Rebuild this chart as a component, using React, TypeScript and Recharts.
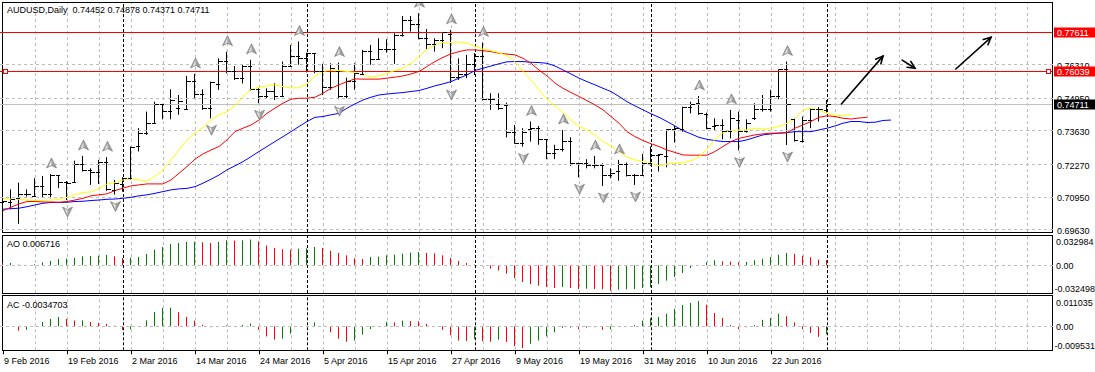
import React from "react";
import { ComposedChart, Bar, Cell, Line, Scatter, XAxis, YAxis, ReferenceLine } from "recharts";

const WIDTH = 1095;
const HEIGHT = 372;
const FONT = "'Liberation Sans', Arial, sans-serif";
const GREEN = "#008000";
const RED = "#ff0000";
const GRID = "#bdbdbd";

// AUDUSD daily bars, 9 Feb 2016 .. 1 Jul 2016
const opens = [
  0.7075, 0.7074, 0.709, 0.7108, 0.7098, 0.7138, 0.7108, 0.7185, 0.7154, 0.7154,
  0.7226, 0.7202, 0.7196, 0.7237, 0.7122, 0.7145, 0.7169, 0.73, 0.7351, 0.7394,
  0.7468, 0.7441, 0.7454, 0.745, 0.7562, 0.7511, 0.7455, 0.7549, 0.7643, 0.7603,
  0.7576, 0.7623, 0.7529, 0.7502, 0.7522, 0.7502, 0.7625, 0.7663, 0.7657, 0.7676,
  0.7603, 0.7539, 0.7603, 0.7502, 0.7562, 0.7589, 0.7683, 0.765, 0.769, 0.7693,
  0.7747, 0.7809, 0.7791, 0.7737, 0.771, 0.773, 0.7751, 0.758, 0.7589, 0.763,
  0.7663, 0.7488, 0.747, 0.7464, 0.7356, 0.7313, 0.7367, 0.7374, 0.7327, 0.727,
  0.7286, 0.732, 0.723, 0.723, 0.7222, 0.7222, 0.7185, 0.7199, 0.7226, 0.7185,
  0.7181, 0.7232, 0.7262, 0.7259, 0.7367, 0.7367, 0.7459, 0.7475, 0.7428, 0.738,
  0.7383, 0.736, 0.7407, 0.736, 0.7414, 0.7448, 0.7448, 0.7502, 0.7609, 0.741,
  0.732, 0.7407, 0.745, 0.74452,
];
const highs = [
  0.7095, 0.7127, 0.7154, 0.7127, 0.7172, 0.7181, 0.7189, 0.7185, 0.7161, 0.7243,
  0.7262, 0.7212, 0.7246, 0.7257, 0.7165, 0.7176, 0.73, 0.7374, 0.7441, 0.7481,
  0.7472, 0.7531, 0.7508, 0.7585, 0.7593, 0.7531, 0.7562, 0.7656, 0.7683, 0.7625,
  0.763, 0.765, 0.7535, 0.7535, 0.7555, 0.7643, 0.771, 0.7724, 0.7679, 0.7677,
  0.7634, 0.7636, 0.7639, 0.7578, 0.7636, 0.769, 0.771, 0.7737, 0.7733, 0.7757,
  0.7827, 0.7827, 0.7838, 0.7774, 0.7737, 0.7762, 0.7771, 0.7656, 0.767, 0.7677,
  0.772, 0.7515, 0.7515, 0.7477, 0.7387, 0.7374, 0.7401, 0.7383, 0.7327, 0.7307,
  0.7367, 0.7337, 0.7235, 0.7249, 0.7262, 0.7232, 0.7212, 0.7246, 0.7235, 0.7189,
  0.727, 0.73, 0.727, 0.737, 0.7383, 0.7461, 0.7481, 0.7504, 0.7437, 0.7414,
  0.741, 0.7448, 0.7441, 0.741, 0.7475, 0.7508, 0.7529, 0.7612, 0.7643, 0.7414,
  0.7421, 0.7454, 0.7459, 0.74878,
];
const lows = [
  0.6963, 0.7047, 0.6988, 0.7098, 0.7098, 0.7094, 0.7091, 0.7132, 0.7084, 0.7154,
  0.7199, 0.7145, 0.7149, 0.7121, 0.7106, 0.7118, 0.7165, 0.728, 0.7347, 0.7391,
  0.741, 0.741, 0.7428, 0.7448, 0.7491, 0.7448, 0.7414, 0.7529, 0.7596, 0.7569,
  0.7555, 0.7526, 0.7475, 0.7495, 0.7488, 0.7502, 0.7623, 0.763, 0.7599, 0.7596,
  0.7508, 0.7529, 0.7491, 0.7495, 0.7529, 0.7589, 0.763, 0.765, 0.7679, 0.7634,
  0.7744, 0.7764, 0.7733, 0.7693, 0.7683, 0.7697, 0.7556, 0.7569, 0.7576, 0.7589,
  0.7486, 0.7448, 0.7448, 0.7337, 0.7311, 0.73, 0.732, 0.7307, 0.7249, 0.7249,
  0.728, 0.7222, 0.7176, 0.7212, 0.7212, 0.7141, 0.7172, 0.7162, 0.7179, 0.7145,
  0.7181, 0.7222, 0.7199, 0.7216, 0.7316, 0.736, 0.7434, 0.7428, 0.737, 0.7364,
  0.7329, 0.7333, 0.7284, 0.7356, 0.7407, 0.7441, 0.7441, 0.7491, 0.7306, 0.732,
  0.7316, 0.7374, 0.7401, 0.74371,
];
const closes = [
  0.708, 0.7087, 0.7108, 0.7105, 0.7138, 0.7108, 0.7185, 0.7154, 0.715, 0.7226,
  0.7202, 0.7196, 0.7237, 0.7125, 0.7152, 0.7172, 0.7297, 0.7351, 0.7394, 0.7468,
  0.7441, 0.7486, 0.748, 0.7562, 0.7511, 0.7455, 0.7558, 0.7643, 0.7603, 0.7576,
  0.7623, 0.7529, 0.7502, 0.7522, 0.7502, 0.7625, 0.7663, 0.7657, 0.7676, 0.7603,
  0.7539, 0.7616, 0.7502, 0.7562, 0.7593, 0.7683, 0.765, 0.769, 0.7693, 0.7747,
  0.7809, 0.7791, 0.7737, 0.771, 0.773, 0.776, 0.758, 0.7589, 0.763, 0.7663,
  0.7488, 0.7488, 0.7455, 0.7356, 0.7313, 0.7356, 0.7374, 0.7327, 0.727, 0.7286,
  0.732, 0.723, 0.723, 0.7222, 0.7222, 0.7185, 0.7192, 0.7226, 0.7185, 0.7181,
  0.7232, 0.7262, 0.7266, 0.7367, 0.7374, 0.7459, 0.7468, 0.7434, 0.7374, 0.7383,
  0.736, 0.7414, 0.736, 0.7394, 0.7448, 0.7448, 0.7502, 0.7609, 0.7468, 0.7324,
  0.7407, 0.745, 0.7448, 0.74711,
];

// Alligator lines (already shifted forward as drawn)
const jaw = [
  0.7047, 0.7049, 0.7051, 0.7057, 0.7064, 0.7071, 0.7074, 0.7074, 0.7075, 0.7078,
  0.7079, 0.7082, 0.7084, 0.7087, 0.7088, 0.7091, 0.7095, 0.7101, 0.7105, 0.7111,
  0.7118, 0.7125, 0.7129, 0.7131, 0.7138, 0.7152, 0.7168, 0.7185, 0.7206, 0.7222,
  0.7239, 0.7259, 0.728, 0.73, 0.732, 0.734, 0.736, 0.7381, 0.7401, 0.7418,
  0.7421, 0.7428, 0.7434, 0.7455, 0.7472, 0.7488, 0.7499, 0.7508, 0.7512, 0.7515,
  0.7518, 0.7522, 0.7526, 0.7535, 0.7545, 0.7553, 0.7562, 0.7576, 0.7589, 0.7607,
  0.7616, 0.7625, 0.7634, 0.7642, 0.7643, 0.7643, 0.764, 0.7639, 0.7636, 0.7625,
  0.7609, 0.7593, 0.7576, 0.7562, 0.7549, 0.7535, 0.7522, 0.7502, 0.7481, 0.7464,
  0.7448, 0.7432, 0.7418, 0.7401, 0.7383, 0.7364, 0.7351, 0.7337, 0.7329, 0.7324,
  0.732, 0.732, 0.732, 0.7327, 0.7337, 0.7347, 0.7351, 0.7354, 0.7356, 0.736,
  0.736, 0.736, 0.7367, 0.7374, 0.7383, 0.7394, 0.7401, 0.7401, 0.7397, 0.7398,
  0.7405, 0.7407,
];
const teeth = [
  0.7041, 0.7055, 0.7068, 0.7078, 0.7078, 0.7076, 0.7076, 0.7075, 0.7078, 0.7084,
  0.7091, 0.7101, 0.7105, 0.7109, 0.7122, 0.7132, 0.7141, 0.7145, 0.7149, 0.7149,
  0.7149, 0.7165, 0.7192, 0.7219, 0.7249, 0.727, 0.7286, 0.73, 0.7327, 0.736,
  0.7374, 0.7387, 0.7407, 0.7434, 0.7455, 0.7475, 0.7491, 0.7495, 0.7495, 0.7499,
  0.7515, 0.7535, 0.7549, 0.7562, 0.7573, 0.7572, 0.7572, 0.7572, 0.7576, 0.758,
  0.7585, 0.7593, 0.7603, 0.7623, 0.7643, 0.766, 0.7674, 0.7683, 0.769, 0.769,
  0.7687, 0.7683, 0.7677, 0.7673, 0.767, 0.7656, 0.7636, 0.7609, 0.7585, 0.7556,
  0.7535, 0.7518, 0.7502, 0.7485, 0.7468, 0.7448, 0.7421, 0.7394, 0.736, 0.734,
  0.7324, 0.7311, 0.73, 0.7286, 0.7276, 0.7266, 0.7265, 0.7265, 0.7265, 0.728,
  0.73, 0.732, 0.7333, 0.734, 0.7347, 0.7351, 0.7354, 0.7354, 0.7356, 0.7374,
  0.7387, 0.7401, 0.7418, 0.7424, 0.7421, 0.7414, 0.7411, 0.7415, 0.7418,
];
const lips = [
  0.7091, 0.7087, 0.7087, 0.7084, 0.7082, 0.7082, 0.7084, 0.7087, 0.7095, 0.7105,
  0.7114, 0.7117, 0.7131, 0.7149, 0.7154, 0.7165, 0.7169, 0.7165, 0.7161, 0.7179,
  0.7206, 0.7246, 0.7286, 0.7327, 0.7354, 0.7378, 0.7407, 0.7428, 0.7441, 0.7464,
  0.7502, 0.7531, 0.7539, 0.7545, 0.7549, 0.7542, 0.7537, 0.7537, 0.7553, 0.7585,
  0.7603, 0.7609, 0.7607, 0.7603, 0.7599, 0.7589, 0.758, 0.7585, 0.7596, 0.7607,
  0.7616, 0.7636, 0.7663, 0.7693, 0.771, 0.772, 0.772, 0.7722, 0.7717, 0.7706,
  0.7693, 0.7687, 0.7679, 0.7666, 0.7643, 0.7603, 0.7569, 0.7529, 0.7491, 0.7464,
  0.7437, 0.7407, 0.7381, 0.7367, 0.7347, 0.732, 0.7302, 0.728, 0.7257, 0.7246,
  0.7239, 0.7233, 0.7223, 0.723, 0.7233, 0.7235, 0.7243, 0.7259, 0.7289, 0.7329,
  0.7356, 0.7364, 0.7367, 0.7367, 0.7374, 0.7371, 0.7374, 0.7381, 0.7394, 0.7414,
  0.7448, 0.7455, 0.7448, 0.7434, 0.7426, 0.7424, 0.743,
];

const ao = [
  0.0026, 0.003, 0.0009, 0.0002, 0.0013, 0.0039, 0.0056, 0.0081, 0.0086, 0.0094,
  0.0116, 0.012, 0.0124, 0.0133, 0.0116, 0.0094, 0.0098, 0.0107, 0.0146, 0.0201,
  0.0235, 0.0274, 0.0287, 0.03, 0.0304, 0.0295, 0.0287, 0.03, 0.0321, 0.0317,
  0.0321, 0.033, 0.0308, 0.0253, 0.0223, 0.0205, 0.0201, 0.0214, 0.0218, 0.0235,
  0.0223, 0.0188, 0.0158, 0.0128, 0.009, 0.0081, 0.0107, 0.0111, 0.0128, 0.0137,
  0.015, 0.0163, 0.0171, 0.0158, 0.0154, 0.0128, 0.0094, 0.0056, 0.003, 0.0009,
  -0.0013, -0.0043, -0.0068, -0.0107, -0.0163, -0.0214, -0.024, -0.0261, -0.0278, -0.0291,
  -0.0278, -0.0291, -0.0304, -0.03, -0.0304, -0.0308, -0.0325, -0.0312, -0.0308, -0.0304,
  -0.0291, -0.0282, -0.024, -0.0197, -0.015, -0.0098, -0.0034, -0.0004, 0.0039, 0.0064,
  0.0051, 0.0047, 0.0039, 0.0043, 0.0064, 0.0081, 0.0107, 0.0137, 0.0158, 0.0146,
  0.0124, 0.0103, 0.0073, 0.006716,
];
const ac = [
  0.0001, 0.00004, -0.0019, -0.0015, 0.0001, 0.0019, 0.0032, 0.0041, 0.0032, 0.0025,
  0.0026, 0.0019, 0.0015, 0.001, 0.0003, -0.0015, -0.0013, 0.0001, 0.0026, 0.0062,
  0.008, 0.0081, 0.0062, 0.0041, 0.0025, 0.0007, -0.0004, -0.0001, 0.0004, 0.0001,
  0.0006, 0.0012, -0.0015, -0.0044, -0.0058, -0.0054, -0.0032, 0.0, 0.0001, 0.0017,
  0.0, -0.0026, -0.0054, -0.0067, -0.0062, -0.0036, -0.0012, -0.0001, 0.002, 0.0017,
  0.0025, 0.0023, 0.0022, 0.001, 0.0, -0.0015, -0.0039, -0.0062, -0.0064, -0.0055,
  -0.0065, -0.0067, -0.0058, -0.0068, -0.0087, -0.0095, -0.0076, -0.0062, -0.0044, -0.0026,
  -0.0007, -0.0006, -0.0012, -0.0006, -0.0004, -0.0015, -0.0013, 0.0, 0.0001, 0.0006,
  0.0025, 0.0036, 0.0041, 0.0055, 0.0076, 0.0093, 0.0102, 0.011, 0.0094, 0.0058,
  0.0036, 0.0006, -0.0012, -0.0004, 0.0006, 0.0028, 0.0036, 0.0055, 0.0044, 0.0017,
  -0.0012, -0.0029, -0.0046, -0.0034703,
];

const fractalsUp = [6, 10, 13, 24, 28, 31, 37, 42, 52, 56, 60, 66, 70, 74, 77, 87, 91, 98];
const fractalsDown = [8, 14, 26, 32, 42, 56, 65, 72, 75, 79, 92, 98];

const dateTicks = [0, 8, 16, 24, 32, 40, 48, 56, 64, 72, 80, 88, 96];
const dateLabels = [
  "9 Feb 2016", "19 Feb 2016", "2 Mar 2016", "14 Mar 2016", "24 Mar 2016", "5 Apr 2016",
  "15 Apr 2016", "27 Apr 2016", "9 May 2016", "19 May 2016", "31 May 2016", "10 Jun 2016", "22 Jun 2016",
];
const monthStarts = [15, 38, 59, 81, 103];
const gridBars = [
  4, 8, 12, 16, 20, 24, 28, 32, 36, 40, 44, 48, 52, 56, 60, 64,
  68, 72, 76, 80, 84, 88, 92, 96, 100, 104, 108, 112, 116, 120, 124, 128,
];
const priceTicks = [0.6963, 0.7095, 0.7227, 0.7363, 0.7495, 0.7631];
const aoTicks = [0.032984, 0, -0.032498];
const acTicks = [0.011035, 0, -0.009531];
const redLevels = [0.77611, 0.76039];
const lastPrice = 0.74711;
const arrowStart = [[104.8, 0.7472], [112.4, 0.7649], [119.1, 0.7613]];
const arrowEnd = [[110.0, 0.7665], [114.0, 0.7616], [123.5, 0.7741]];

const SLOTS = 132;
const X_DOMAIN: [number, number] = [-0.375, 131.25];
const PRICE_DOMAIN: [number, number] = [0.69549, 0.78794];

const rows = Array.from({ length: SLOTS }, (_, i) => ({
  i,
  hl: i < highs.length ? [lows[i], highs[i]] : undefined,
  jaw: jaw[i],
  teeth: teeth[i],
  lips: lips[i],
  ao: ao[i],
  ac: ac[i],
}));
const aoColors = rows.map((r) => (r.i > 0 && r.i < ao.length && ao[r.i] > ao[r.i - 1] ? GREEN : RED));
const acColors = rows.map((r) => (r.i > 0 && r.i < ac.length && ac[r.i] > ac[r.i - 1] ? GREEN : RED));
const openPts = opens.map((v, i) => ({ i, v }));
const closePts = closes.map((v, i) => ({ i, v }));
const upPts = fractalsUp.map((i) => ({ i, v: highs[i] }));
const downPts = fractalsDown.map((i) => ({ i, v: lows[i] }));

const crisp = (v: number) => Math.floor(v) + 0.5;

const stickShape = (p: any) => {
  if (p == null || p.x == null || p.height == null || isNaN(p.y) || isNaN(p.height)) return null;
  const cx = Math.floor(p.x + p.width / 2);
  const top = Math.min(p.y, p.y + p.height);
  const h = Math.abs(p.height);
  return <rect x={cx} y={top} width={1} height={Math.max(h, 0)} fill={p.fill || "#000"} />;
};
const OpenShape = (p: any) => {
  const x = Math.floor(p.cx);
  const y = crisp(p.cy);
  return <line x1={x - 3} x2={x + 1} y1={y} y2={y} stroke="#000" strokeWidth={1} />;
};
const CloseShape = (p: any) => {
  const x = Math.floor(p.cx);
  const y = crisp(p.cy);
  return <line x1={x} x2={x + 4} y1={y} y2={y} stroke="#000" strokeWidth={1} />;
};
const UpFractal = (p: any) => {
  const x = Math.floor(p.cx) + 0.5;
  const y = p.cy;
  return (
    <g>
      <polygon points={`${x},${y - 16} ${x + 5},${y - 6} ${x},${y - 8.5} ${x - 5},${y - 6}`} fill="#a2a2a2" stroke="#6e6e6e" strokeWidth={0.6} />
      <polygon points={`${x},${y - 14} ${x - 3},${y - 7.5} ${x},${y - 9}`} fill="#e6e6e6" />
    </g>
  );
};
const DownFractal = (p: any) => {
  const x = Math.floor(p.cx) + 0.5;
  const y = p.cy;
  return (
    <g>
      <polygon points={`${x},${y + 17} ${x + 5},${y + 7} ${x},${y + 9.5} ${x - 5},${y + 7}`} fill="#a2a2a2" stroke="#6e6e6e" strokeWidth={0.6} />
      <polygon points={`${x},${y + 15} ${x - 3},${y + 8.5} ${x},${y + 10}`} fill="#e6e6e6" />
    </g>
  );
};

const vGrid = (p: any) => <line x1={crisp(p.x1)} x2={crisp(p.x1)} y1={p.y1} y2={p.y2} stroke={GRID} strokeDasharray="3 3" />;
const vSep = (p: any) => <line x1={crisp(p.x1)} x2={crisp(p.x1)} y1={p.y1} y2={p.y2} stroke="#000" strokeDasharray="3 2" />;
const hGrid = (p: any) => <line x1={p.x1} x2={p.x2} y1={crisp(p.y1)} y2={crisp(p.y1)} stroke={GRID} strokeDasharray="3 3" />;

const levelShape = (color: string, selected: boolean) => (p: any) => {
  const y = crisp(p.y1);
  const xl = Math.min(p.x1, p.x2);
  const xr = Math.max(p.x1, p.x2);
  return (
    <g>
      <line x1={xl} x2={xr - 1} y1={y} y2={y} stroke={color} strokeWidth={1} />
      {selected && <rect x={xl + 3.5} y={y - 2} width={4} height={4} fill="#fff" stroke={color} strokeWidth={1} />}
      {selected && <rect x={xr - 6.5} y={y - 2} width={4} height={4} fill="#fff" stroke={color} strokeWidth={1} />}
    </g>
  );
};
const tagShape = (label: string, bg: string) => (p: any) => {
  const y = crisp(p.y1);
  const xr = Math.max(p.x1, p.x2);
  return (
    <g>
      <rect x={xr + 1} y={y - 5} width={44} height={10} fill={bg} />
      <text x={xr + 4} y={y + 0.5} fontSize={9} fontFamily={FONT} fill="#fff" dominantBaseline="central">{label}</text>
    </g>
  );
};

const ArrowShape = (p: any) => {
  const { x1, y1, x2, y2 } = p;
  const a = Math.atan2(y2 - y1, x2 - x1);
  const L = 8;
  const h1x = x2 - L * Math.cos(a - 0.45);
  const h1y = y2 - L * Math.sin(a - 0.45);
  const h2x = x2 - L * Math.cos(a + 0.45);
  const h2y = y2 - L * Math.sin(a + 0.45);
  return (
    <g stroke="#000" strokeWidth={1.6} fill="none" strokeLinecap="round">
      <line x1={x1} y1={y1} x2={x2} y2={y2} />
      <polyline points={`${h1x},${h1y} ${x2},${y2} ${h2x},${h2y}`} />
    </g>
  );
};

const PriceTick = (p: any) => (
  <text x={p.x + 4} y={p.y + 1} fontSize={9} fontFamily={FONT} fill="#000" dominantBaseline="central">
    {Number(p.payload.value).toFixed(5)}
  </text>
);
const IndTick = (p: any) => {
  const v = Number(p.payload.value);
  const dy = v > 0 ? 2 : v < 0 ? -2 : 1;
  return (
    <text x={p.x + (v < 0 ? 1.5 : 3)} y={p.y + dy} fontSize={9} fontFamily={FONT} fill="#000" dominantBaseline="central">
      {v === 0 ? "0.00" : String(v)}
    </text>
  );
};
const DateTick = (p: any) => {
  const idx = dateTicks.indexOf(Number(p.payload.value));
  const x = crisp(p.x);
  return (
    <g>
      <line x1={x} x2={x} y1={p.y} y2={p.y + 4} stroke="#000" />
      <text x={p.x + 1} y={p.y + 11} fontSize={9} fontFamily={FONT} fill="#000" dominantBaseline="central">
        {dateLabels[idx]}
      </text>
    </g>
  );
};

const layer: React.CSSProperties = { position: "absolute", left: 0, top: 0 };
const frame = (top: number, height: number): React.CSSProperties => ({
  position: "absolute",
  left: 2,
  top,
  width: 1051,
  height,
  border: "1px solid #000",
  boxSizing: "border-box",
});
const caption = (top: number): React.CSSProperties => ({
  position: "absolute",
  left: 7,
  top,
  fontFamily: FONT,
  fontSize: 9,
  lineHeight: "11px",
  whiteSpace: "pre",
  color: "#000",
});

const commonGrid = (prefix: string) => [
  ...gridBars.map((g) => <ReferenceLine key={`${prefix}g${g}`} x={g} shape={vGrid} />),
  ...monthStarts.map((m) => <ReferenceLine key={`${prefix}m${m}`} x={m} shape={vSep} />),
];

const mainMargin = { top: 3, right: 0, bottom: HEIGHT - 232, left: 0 };

export default function App() {
  return (
    <div style={{ position: "absolute", left: 0, top: 0, width: WIDTH, height: HEIGHT, background: "#fff", overflow: "hidden" }}>
      <div style={frame(2, 231)} />
      <div style={frame(235, 59)} />
      <div style={frame(295, 56)} />

      <div style={layer}>
        <ComposedChart width={WIDTH} height={HEIGHT} data={rows} margin={mainMargin}>
          <XAxis dataKey="i" type="number" domain={X_DOMAIN} allowDataOverflow hide />
          <YAxis
            orientation="right"
            width={42}
            domain={PRICE_DOMAIN}
            ticks={priceTicks}
            interval={0}
            allowDataOverflow
            axisLine={false}
            tickLine={false}
            tickSize={0}
            tickMargin={0}
            tick={<PriceTick />}
          />
          {priceTicks.map((t) => (
            <ReferenceLine key={`p${t}`} y={t} shape={hGrid} />
          ))}
          {commonGrid("main")}
          <ReferenceLine y={lastPrice} shape={levelShape("#c0c0c0", false)} />
          <ReferenceLine y={redLevels[0]} shape={levelShape(RED, false)} />
          <ReferenceLine y={redLevels[1]} shape={levelShape(RED, true)} />
          <Bar dataKey="hl" barSize={1} fill="#000" shape={stickShape} isAnimationActive={false} />
          <Scatter data={openPts} dataKey="v" shape={OpenShape} isAnimationActive={false} />
          <Scatter data={closePts} dataKey="v" shape={CloseShape} isAnimationActive={false} />
          <Line dataKey="jaw" stroke="#0000ff" strokeWidth={1} dot={false} isAnimationActive={false} />
          <Line dataKey="teeth" stroke={RED} strokeWidth={1} dot={false} isAnimationActive={false} />
          <Line dataKey="lips" stroke="#ffff00" strokeWidth={1} dot={false} isAnimationActive={false} />
          <Scatter data={upPts} dataKey="v" shape={UpFractal} isAnimationActive={false} />
          <Scatter data={downPts} dataKey="v" shape={DownFractal} isAnimationActive={false} />
          {arrowStart.map((s, k) => (
            <ReferenceLine
              key={`a${k}`}
              segment={[
                { x: s[0], y: s[1] },
                { x: arrowEnd[k][0], y: arrowEnd[k][1] },
              ]}
              shape={ArrowShape}
            />
          ))}
        </ComposedChart>
      </div>

      <div style={layer}>
        <ComposedChart width={WIDTH} height={HEIGHT} data={rows} margin={{ top: 235.7, right: 0, bottom: HEIGHT - 293, left: 0 }}>
          <XAxis dataKey="i" type="number" domain={X_DOMAIN} allowDataOverflow hide />
          <YAxis
            orientation="right"
            width={42}
            domain={[-0.03557, 0.038]}
            ticks={aoTicks}
            interval={0}
            allowDataOverflow
            axisLine={false}
            tickLine={false}
            tickSize={0}
            tickMargin={0}
            tick={<IndTick />}
          />
          <ReferenceLine y={0} shape={hGrid} />
          {commonGrid("ao")}
          <Bar dataKey="ao" barSize={1} shape={stickShape} isAnimationActive={false}>
            {rows.map((r) => (
              <Cell key={`ao${r.i}`} fill={aoColors[r.i]} />
            ))}
          </Bar>
        </ComposedChart>
      </div>

      <div style={layer}>
        <ComposedChart width={WIDTH} height={HEIGHT} data={rows} margin={{ top: 295.7, right: 0, bottom: 0, left: 0 }}>
          <XAxis
            dataKey="i"
            type="number"
            domain={X_DOMAIN}
            allowDataOverflow
            ticks={dateTicks}
            interval={0}
            height={21.7}
            axisLine={false}
            tickLine={false}
            tickSize={0}
            tickMargin={0}
            tick={<DateTick />}
          />
          <YAxis
            orientation="right"
            width={42}
            domain={[-0.01046, 0.01334]}
            ticks={acTicks}
            interval={0}
            allowDataOverflow
            axisLine={false}
            tickLine={false}
            tickSize={0}
            tickMargin={0}
            tick={<IndTick />}
          />
          <ReferenceLine y={0} shape={hGrid} />
          {commonGrid("ac")}
          <Bar dataKey="ac" barSize={1} shape={stickShape} isAnimationActive={false}>
            {rows.map((r) => (
              <Cell key={`ac${r.i}`} fill={acColors[r.i]} />
            ))}
          </Bar>
        </ComposedChart>
      </div>

      {/* price tags drawn last so they sit on top of the axis labels */}
      <div style={layer}>
        <ComposedChart width={WIDTH} height={HEIGHT} data={rows} margin={mainMargin}>
          <XAxis dataKey="i" type="number" domain={X_DOMAIN} allowDataOverflow hide />
          <YAxis orientation="right" width={42} domain={PRICE_DOMAIN} allowDataOverflow axisLine={false} tickLine={false} tick={false} />
          <ReferenceLine y={lastPrice} shape={tagShape(lastPrice.toFixed(5), "#000")} />
          <ReferenceLine y={redLevels[0]} shape={tagShape(redLevels[0].toFixed(5), RED)} />
          <ReferenceLine y={redLevels[1]} shape={tagShape(redLevels[1].toFixed(5), RED)} />
        </ComposedChart>
      </div>

      <div style={caption(5)}>{"AUDUSD,Daily  0.74452 0.74878 0.74371 0.74711"}</div>
      <div style={caption(239)}>{"AO 0.006716"}</div>
      <div style={caption(300)}>{"AC -0.0034703"}</div>
    </div>
  );
}
